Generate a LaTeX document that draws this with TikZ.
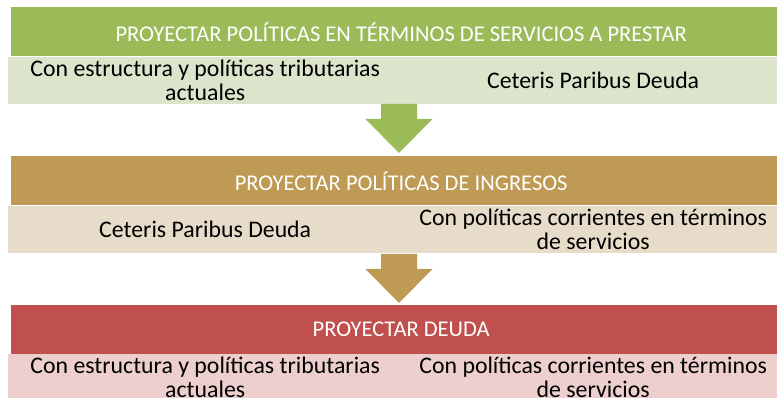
\documentclass[tikz,border=0pt]{standalone}
\usepackage{fontspec}
\setmainfont{Carlito}
\usetikzlibrary{positioning}
\definecolor{hgreen}{HTML}{9BBB59}
\definecolor{sgreen}{HTML}{DCE5CB}
\definecolor{htan}{HTML}{BE9A55}
\definecolor{stan}{HTML}{E7DCC9}
\definecolor{hred}{HTML}{C0504D}
\definecolor{sred}{HTML}{EDCFCE}
\begin{document}
\begin{tikzpicture}[x=1pt,y=-1pt,
  header/.style={anchor=north west,minimum width=780pt,minimum height=49pt,
    inner sep=0pt,text=white,font=\fontsize{22.5}{24}\selectfont},
  subbox/.style={anchor=north west,minimum height=47pt,inner sep=0pt,
    align=center,font=\fontsize{23.8}{24}\selectfont},
  blockarrow/.style={draw=none}]
\useasboundingbox (0,0) rectangle (777,398);
\clip (0,0) rectangle (777,398);

\node(h1) at (11,7)[header,fill=hgreen]  {PROYECTAR POLÍTICAS EN TÉRMINOS DE SERVICIOS A PRESTAR};
\node(s1a) at (8,57)[subbox,fill=sgreen,minimum width=394pt]  {Con estructura y políticas tributarias\\actuales};
\node(s1b) at (395,57)[subbox,fill=sgreen,minimum width=396pt] {Ceteris Paribus Deuda};

\node(h2) at (11,156)[header,fill=htan]  {PROYECTAR POLÍTICAS DE INGRESOS};
\node(s2a) at (8,206)[subbox,fill=stan,minimum width=394pt]  {Ceteris Paribus Deuda};
\node(s2b) at (395,206)[subbox,fill=stan,minimum width=396pt] {Con políticas corrientes en términos\\de servicios};

\node(h3) at (11,305)[header,fill=hred]  {PROYECTAR DEUDA};
\node(s3a) at (8,354)[subbox,fill=sred,minimum width=394pt]  {Con estructura y políticas tributarias\\actuales};
\node(s3b) at (395,354)[subbox,fill=sred,minimum width=396pt] {Con políticas corrientes en términos\\de servicios};

\coordinate(t1) at (399,104);
\coordinate(p1) at (399,153);
\coordinate(t2) at (399,254);
\coordinate(p2) at (399,303);

\path[blockarrow,fill=hgreen]
  (t1) ++(-18,0) -- ++(36,0) -- ++(0,15) -- ++(15.5,0) -- (p1)
  -- ++(-33.5,-34) -- ++(15.5,0) -- cycle;
\path[blockarrow,fill=htan]
  (t2) ++(-18,0) -- ++(36,0) -- ++(0,15) -- ++(15.5,0) -- (p2)
  -- ++(-33.5,-34) -- ++(15.5,0) -- cycle;

\end{tikzpicture}
\end{document}
